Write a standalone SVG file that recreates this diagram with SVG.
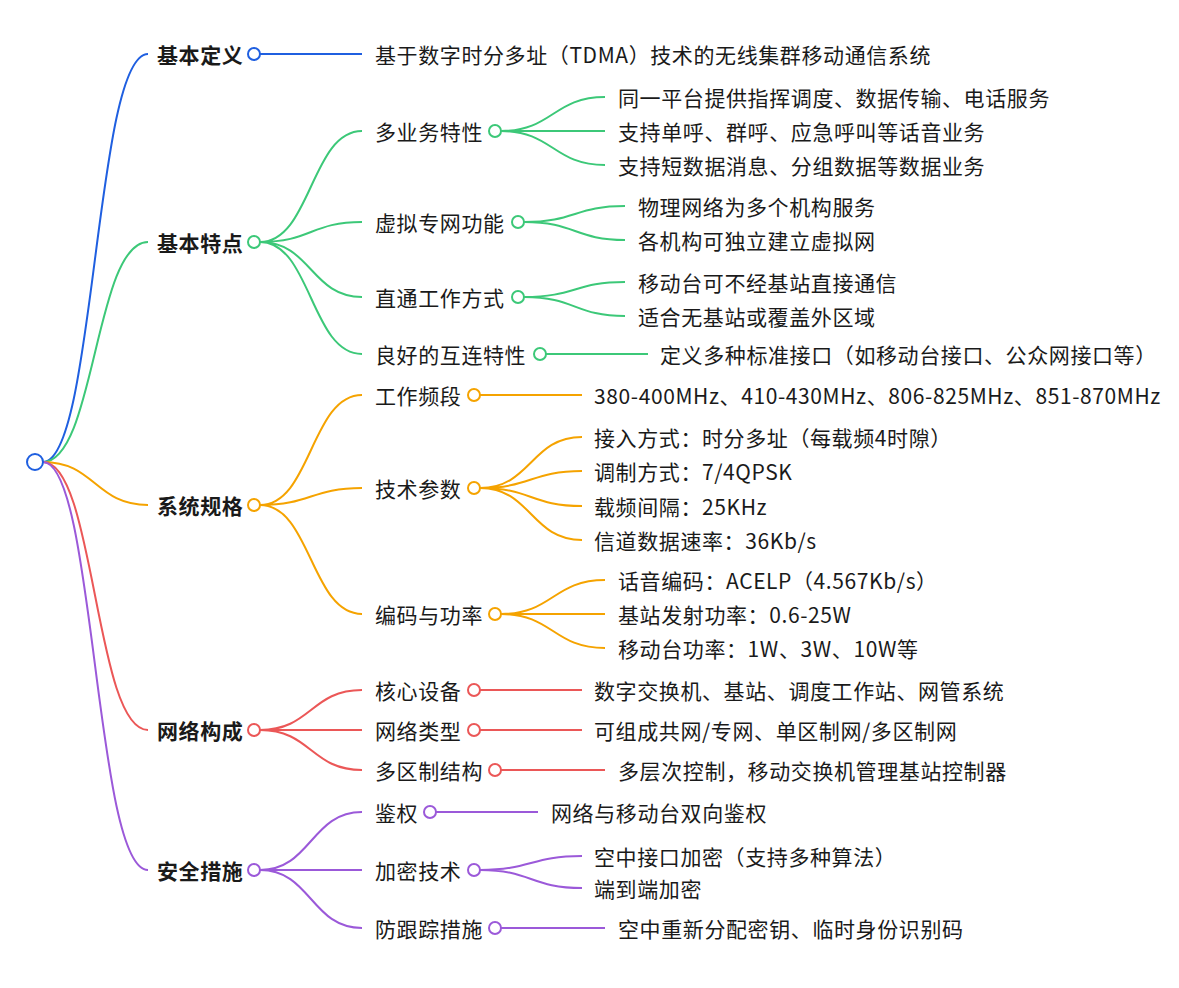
<svg xmlns="http://www.w3.org/2000/svg" width="1179" height="988" viewBox="0 0 1179 988">
<style>
text{font-family:"Noto Sans CJK SC","Noto Sans",sans-serif;font-size:21px;letter-spacing:0.6px;fill:#1a1a1a;dominant-baseline:central}
.b{font-weight:bold}
path{fill:none;stroke-width:2}
circle{fill:#fff;stroke-width:2}
.bl{stroke:#1f5fe0}.gr{stroke:#3cc878}.or{stroke:#f5a300}.rd{stroke:#eb5757}.pu{stroke:#9b59d9}
</style>
<rect width="1179" height="988" fill="#fff"/>
<g id="connectors">
<path class="bl" d="M43,462 C95,462 95,54 148,54 M260,54 L362,54"/>
<path class="gr" d="M43,462 C95,462 95,242 148,242
M260,242 C311,242 311,131 362,131 M260,242 C311,242 311,222 362,222 M260,242 C311,242 311,297 362,297 M260,242 C311,242 311,354 362,354
M501,131 C553,131 553,97 605,97 M501,131 L605,131 M501,131 C553,131 553,165 605,165
M524,222 C575,222 575,206 625,206 M524,222 C575,222 575,240 625,240
M524,297 C575,297 575,282 625,282 M524,297 C575,297 575,316 625,316
M546,354 L648,354"/>
<path class="or" d="M43,462 C95,462 95,505 148,505
M260,505 C311,505 311,395 362,395 M260,505 C311,505 311,488 362,488 M260,505 C311,505 311,614 362,614
M480,395 L582,395
M480,488 C531,488 531,437 582,437 M480,488 C531,488 531,471 582,471 M480,488 C531,488 531,506 582,506 M480,488 C531,488 531,540 582,540
M501,614 C553,614 553,580 605,580 M501,614 L605,614 M501,614 C553,614 553,648 605,648"/>
<path class="rd" d="M43,462 C95,462 95,730 148,730
M260,730 C311,730 311,690 362,690 M260,730 L362,730 M260,730 C311,730 311,770 362,770
M480,690 L582,690 M480,730 L582,730 M501,770 L605,770"/>
<path class="pu" d="M43,462 C95,462 95,870 148,870
M260,870 C311,870 311,812 362,812 M260,870 L362,870 M260,870 C311,870 311,928 362,928
M436,812 L538,812
M480,870 C531,870 531,856 582,856 M480,870 C531,870 531,888 582,888
M501,928 L605,928"/>
</g>
<g id="root"><circle cx="35" cy="462" r="8" class="bl"/></g>
<g id="n1"><text x="157" y="54" class="b">基本定义</text><circle cx="254" cy="54" r="6" class="bl"/><text x="375" y="54">基于数字时分多址（TDMA）技术的无线集群移动通信系统</text></g>
<g id="n2"><text x="157" y="242" class="b">基本特点</text><circle cx="254" cy="242" r="6" class="gr"/>
<text x="375" y="131">多业务特性</text><circle cx="495" cy="131" r="6" class="gr"/>
<text x="618" y="97">同一平台提供指挥调度、数据传输、电话服务</text>
<text x="618" y="131">支持单呼、群呼、应急呼叫等话音业务</text>
<text x="618" y="165">支持短数据消息、分组数据等数据业务</text>
<text x="375" y="222">虚拟专网功能</text><circle cx="518" cy="222" r="6" class="gr"/>
<text x="638" y="206">物理网络为多个机构服务</text>
<text x="638" y="240">各机构可独立建立虚拟网</text>
<text x="375" y="297">直通工作方式</text><circle cx="518" cy="297" r="6" class="gr"/>
<text x="638" y="282">移动台可不经基站直接通信</text>
<text x="638" y="316">适合无基站或覆盖外区域</text>
<text x="375" y="354">良好的互连特性</text><circle cx="540" cy="354" r="6" class="gr"/>
<text x="660" y="354">定义多种标准接口（如移动台接口、公众网接口等）</text></g>
<g id="n3"><text x="157" y="505" class="b">系统规格</text><circle cx="254" cy="505" r="6" class="or"/>
<text x="375" y="395">工作频段</text><circle cx="474" cy="395" r="6" class="or"/>
<text x="594" y="395">380-400MHz、410-430MHz、806-825MHz、851-870MHz</text>
<text x="375" y="488">技术参数</text><circle cx="474" cy="488" r="6" class="or"/>
<text x="594" y="437">接入方式：时分多址（每载频4时隙）</text>
<text x="594" y="471">调制方式：7/4QPSK</text>
<text x="594" y="506">载频间隔：25KHz</text>
<text x="594" y="540">信道数据速率：36Kb/s</text>
<text x="375" y="614">编码与功率</text><circle cx="495" cy="614" r="6" class="or"/>
<text x="618" y="580">话音编码：ACELP（4.567Kb/s）</text>
<text x="618" y="614">基站发射功率：0.6-25W</text>
<text x="618" y="648">移动台功率：1W、3W、10W等</text></g>
<g id="n4"><text x="157" y="730" class="b">网络构成</text><circle cx="254" cy="730" r="6" class="rd"/>
<text x="375" y="690">核心设备</text><circle cx="474" cy="690" r="6" class="rd"/>
<text x="594" y="690">数字交换机、基站、调度工作站、网管系统</text>
<text x="375" y="730">网络类型</text><circle cx="474" cy="730" r="6" class="rd"/>
<text x="594" y="730">可组成共网/专网、单区制网/多区制网</text>
<text x="375" y="770">多区制结构</text><circle cx="495" cy="770" r="6" class="rd"/>
<text x="618" y="770">多层次控制，移动交换机管理基站控制器</text></g>
<g id="n5"><text x="157" y="870" class="b">安全措施</text><circle cx="254" cy="870" r="6" class="pu"/>
<text x="375" y="812">鉴权</text><circle cx="430" cy="812" r="6" class="pu"/>
<text x="551" y="812">网络与移动台双向鉴权</text>
<text x="375" y="870">加密技术</text><circle cx="474" cy="870" r="6" class="pu"/>
<text x="594" y="856">空中接口加密（支持多种算法）</text>
<text x="594" y="888">端到端加密</text>
<text x="375" y="928">防跟踪措施</text><circle cx="495" cy="928" r="6" class="pu"/>
<text x="618" y="928">空中重新分配密钥、临时身份识别码</text></g>
</svg>
